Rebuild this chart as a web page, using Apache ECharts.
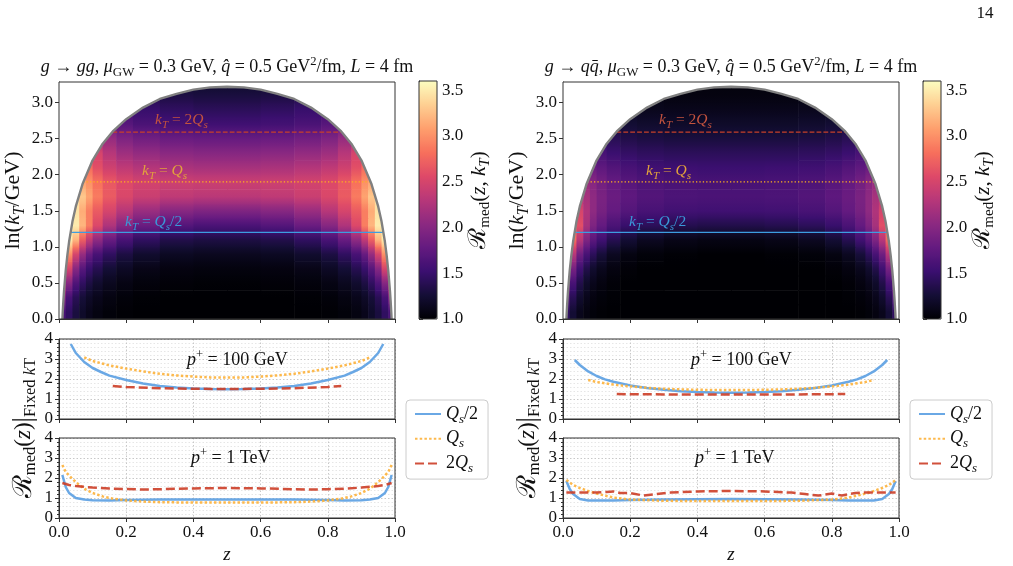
<!DOCTYPE html>
<html>
<head>
<meta charset="utf-8">
<script src="https://cdn.jsdelivr.net/npm/echarts@6/dist/echarts.min.js"></script>
<style>
  html, body { margin: 0; padding: 0; background: #fff; }
  #chart { width: 1013px; height: 566px; }
</style>
</head>
<body>
<div id="chart"></div>
<script>
// ---- R_med(z, kT) maps: cell edges and values ----
const zEdges = [0, 0.02, 0.04, 0.06, 0.08, 0.1, 0.13, 0.17, 0.22, 0.3, 0.4, 0.5,
  0.6, 0.7, 0.78, 0.83, 0.87, 0.9, 0.92, 0.94, 0.96, 0.98, 1.0];
const kEdges = [0, 0.2, 0.4, 0.6, 0.8, 1.0, 1.2, 1.4, 1.6, 1.8, 2.0, 2.2, 2.4, 2.6, 2.8, 3.0, 3.2, 3.4];

// g -> gg, one row per kT band (bottom to top)
const heatGG = [
  [1.6, 1.45, 1.3, 1.2, 1.12, 1.07, 1.03, 1.01, 1.0, 1.0, 1.0, 1.0, 1.0, 1.0, 1.01, 1.03, 1.07, 1.12, 1.2, 1.3, 1.45, 1.6],
  [2.0, 1.6, 1.4, 1.27, 1.18, 1.12, 1.07, 1.03, 1.01, 1.0, 1.0, 1.0, 1.0, 1.01, 1.03, 1.07, 1.12, 1.18, 1.27, 1.4, 1.6, 2.0],
  [2.5, 2.0, 1.65, 1.45, 1.32, 1.22, 1.14, 1.08, 1.04, 1.02, 1.01, 1.01, 1.02, 1.04, 1.08, 1.14, 1.22, 1.32, 1.45, 1.65, 2.0, 2.5],
  [2.9, 2.5, 2.0, 1.7, 1.5, 1.38, 1.26, 1.17, 1.1, 1.06, 1.05, 1.05, 1.06, 1.1, 1.17, 1.26, 1.38, 1.5, 1.7, 2.0, 2.5, 2.9],
  [3.2, 3.0, 2.5, 2.1, 1.8, 1.6, 1.45, 1.32, 1.22, 1.16, 1.14, 1.14, 1.16, 1.22, 1.32, 1.45, 1.6, 1.8, 2.1, 2.5, 3.0, 3.2],
  [3.5, 3.5, 3.2, 2.7, 2.35, 2.05, 1.8, 1.6, 1.45, 1.35, 1.32, 1.32, 1.35, 1.45, 1.6, 1.8, 2.05, 2.35, 2.7, 3.2, 3.5, 3.5],
  [3.6, 3.6, 3.5, 3.2, 2.9, 2.55, 2.25, 2.0, 1.82, 1.68, 1.62, 1.62, 1.68, 1.82, 2.0, 2.25, 2.55, 2.9, 3.2, 3.5, 3.6, 3.6],
  [3.6, 3.6, 3.45, 3.15, 2.9, 2.68, 2.5, 2.3, 2.12, 2.0, 1.95, 1.95, 2.0, 2.12, 2.3, 2.5, 2.68, 2.9, 3.15, 3.45, 3.6, 3.6],
  [3.4, 3.4, 3.4, 3.3, 3.1, 2.88, 2.68, 2.53, 2.42, 2.35, 2.32, 2.32, 2.35, 2.42, 2.53, 2.68, 2.88, 3.1, 3.3, 3.4, 3.4, 3.4],
  [3.2, 3.2, 3.2, 3.1, 3.0, 2.82, 2.66, 2.55, 2.48, 2.44, 2.42, 2.42, 2.44, 2.48, 2.55, 2.66, 2.82, 3.0, 3.1, 3.2, 3.2, 3.2],
  [2.9, 2.9, 2.9, 2.9, 2.8, 2.6, 2.45, 2.35, 2.28, 2.22, 2.2, 2.2, 2.22, 2.28, 2.35, 2.45, 2.6, 2.8, 2.9, 2.9, 2.9, 2.9],
  [2.6, 2.6, 2.6, 2.6, 2.6, 2.5, 2.3, 2.15, 2.08, 2.03, 2.0, 2.0, 2.03, 2.08, 2.15, 2.3, 2.5, 2.6, 2.6, 2.6, 2.6, 2.6],
  [2.2, 2.2, 2.2, 2.2, 2.2, 2.2, 2.1, 1.95, 1.87, 1.82, 1.8, 1.8, 1.82, 1.87, 1.95, 2.1, 2.2, 2.2, 2.2, 2.2, 2.2, 2.2],
  [1.8, 1.8, 1.8, 1.8, 1.8, 1.8, 1.8, 1.7, 1.62, 1.57, 1.55, 1.55, 1.57, 1.62, 1.7, 1.8, 1.8, 1.8, 1.8, 1.8, 1.8, 1.8],
  [1.55, 1.55, 1.55, 1.55, 1.55, 1.55, 1.55, 1.55, 1.5, 1.45, 1.42, 1.42, 1.45, 1.5, 1.55, 1.55, 1.55, 1.55, 1.55, 1.55, 1.55, 1.55],
  [1.35, 1.35, 1.35, 1.35, 1.35, 1.35, 1.35, 1.35, 1.35, 1.32, 1.3, 1.3, 1.32, 1.35, 1.35, 1.35, 1.35, 1.35, 1.35, 1.35, 1.35, 1.35],
  [1.2, 1.2, 1.2, 1.2, 1.2, 1.2, 1.2, 1.2, 1.2, 1.2, 1.2, 1.2, 1.2, 1.2, 1.2, 1.2, 1.2, 1.2, 1.2, 1.2, 1.2, 1.2]
];

// g -> q qbar
const heatQQ = [
  [1.45, 1.25, 1.12, 1.06, 1.03, 1.01, 1.0, 1.0, 1.0, 1.0, 1.0, 1.0, 1.0, 1.0, 1.0, 1.0, 1.01, 1.03, 1.06, 1.12, 1.25, 1.45],
  [1.7, 1.4, 1.22, 1.12, 1.06, 1.03, 1.01, 1.0, 1.0, 1.0, 1.0, 1.0, 1.0, 1.0, 1.0, 1.01, 1.03, 1.06, 1.12, 1.22, 1.4, 1.7],
  [2.0, 1.6, 1.35, 1.2, 1.12, 1.06, 1.02, 1.0, 1.0, 1.0, 1.0, 1.0, 1.0, 1.0, 1.0, 1.02, 1.06, 1.12, 1.2, 1.35, 1.6, 2.0],
  [2.3, 1.9, 1.55, 1.35, 1.22, 1.13, 1.06, 1.02, 1.0, 1.0, 1.0, 1.0, 1.0, 1.0, 1.02, 1.06, 1.13, 1.22, 1.35, 1.55, 1.9, 2.3],
  [2.6, 2.3, 1.85, 1.6, 1.42, 1.28, 1.15, 1.07, 1.03, 1.01, 1.0, 1.0, 1.01, 1.03, 1.07, 1.15, 1.28, 1.42, 1.6, 1.85, 2.3, 2.6],
  [2.9, 2.8, 2.3, 1.95, 1.72, 1.55, 1.38, 1.25, 1.15, 1.1, 1.08, 1.08, 1.1, 1.15, 1.25, 1.38, 1.55, 1.72, 1.95, 2.3, 2.8, 2.9],
  [2.9, 2.9, 2.6, 2.2, 1.95, 1.78, 1.62, 1.5, 1.42, 1.37, 1.35, 1.35, 1.37, 1.42, 1.5, 1.62, 1.78, 1.95, 2.2, 2.6, 2.9, 2.9],
  [2.6, 2.6, 2.5, 2.25, 2.05, 1.9, 1.78, 1.68, 1.6, 1.56, 1.55, 1.55, 1.56, 1.6, 1.68, 1.78, 1.9, 2.05, 2.25, 2.5, 2.6, 2.6],
  [2.3, 2.3, 2.3, 2.2, 2.05, 1.92, 1.82, 1.74, 1.67, 1.63, 1.62, 1.62, 1.63, 1.67, 1.74, 1.82, 1.92, 2.05, 2.2, 2.3, 2.3, 2.3],
  [2.1, 2.1, 2.1, 2.1, 2.0, 1.88, 1.78, 1.7, 1.64, 1.61, 1.6, 1.6, 1.61, 1.64, 1.7, 1.78, 1.88, 2.0, 2.1, 2.1, 2.1, 2.1],
  [1.85, 1.85, 1.85, 1.85, 1.82, 1.75, 1.67, 1.6, 1.55, 1.53, 1.52, 1.52, 1.53, 1.55, 1.6, 1.67, 1.75, 1.82, 1.85, 1.85, 1.85, 1.85],
  [1.65, 1.65, 1.65, 1.65, 1.65, 1.6, 1.52, 1.47, 1.44, 1.42, 1.42, 1.42, 1.42, 1.44, 1.47, 1.52, 1.6, 1.65, 1.65, 1.65, 1.65, 1.65],
  [1.45, 1.45, 1.45, 1.45, 1.45, 1.45, 1.4, 1.35, 1.32, 1.3, 1.3, 1.3, 1.3, 1.32, 1.35, 1.4, 1.45, 1.45, 1.45, 1.45, 1.45, 1.45],
  [1.28, 1.28, 1.28, 1.28, 1.28, 1.28, 1.28, 1.25, 1.22, 1.2, 1.2, 1.2, 1.2, 1.22, 1.25, 1.28, 1.28, 1.28, 1.28, 1.28, 1.28, 1.28],
  [1.15, 1.15, 1.15, 1.15, 1.15, 1.15, 1.15, 1.15, 1.13, 1.12, 1.12, 1.12, 1.12, 1.13, 1.15, 1.15, 1.15, 1.15, 1.15, 1.15, 1.15, 1.15],
  [1.08, 1.08, 1.08, 1.08, 1.08, 1.08, 1.08, 1.08, 1.08, 1.06, 1.06, 1.06, 1.06, 1.08, 1.08, 1.08, 1.08, 1.08, 1.08, 1.08, 1.08, 1.08],
  [1.04, 1.04, 1.04, 1.04, 1.04, 1.04, 1.04, 1.04, 1.04, 1.04, 1.04, 1.04, 1.04, 1.04, 1.04, 1.04, 1.04, 1.04, 1.04, 1.04, 1.04, 1.04]
];

// kinematic boundary (grey dome)
const domeZ = [0, 0.0101, 0.011, 0.012, 0.013, 0.015, 0.02, 0.025, 0.03, 0.04, 0.05, 0.07, 0.1, 0.13, 0.16, 0.2, 0.25, 0.3, 0.35, 0.4, 0.45, 0.5,
  0.55, 0.6, 0.65, 0.7, 0.75, 0.8, 0.84, 0.87, 0.9, 0.93, 0.95, 0.96, 0.97, 0.975, 0.98, 0.985, 0.987, 0.988, 0.989, 0.9899, 1];
const domeK = [0, 0, 0.085, 0.17, 0.25, 0.39, 0.67, 0.89, 1.07, 1.35, 1.56, 1.87, 2.2, 2.43, 2.6, 2.77, 2.93, 3.05, 3.12, 3.18, 3.21, 3.22,
  3.21, 3.18, 3.12, 3.05, 2.93, 2.77, 2.6, 2.43, 2.2, 1.87, 1.56, 1.35, 1.07, 0.89, 0.67, 0.39, 0.25, 0.17, 0.085, 0, 0];

// fixed-kT lines: Qs/2, Qs, 2Qs
const fixedK = [1.2, 1.9, 2.59];
const fixedZ0 = [0.034, 0.072, 0.159];
const fixedZ1 = [0.966, 0.928, 0.841];

// ---- lower panels: R_med(z) at fixed kT ----
const gg100HalfZ = [0.035, 0.05, 0.075, 0.1, 0.125, 0.15, 0.2, 0.25, 0.3, 0.35, 0.4, 0.45, 0.5, 0.55, 0.6, 0.65, 0.7, 0.75, 0.8, 0.85, 0.875, 0.9, 0.925, 0.95, 0.965];
const gg100Half = [3.75, 3.3, 2.85, 2.55, 2.35, 2.17, 1.95, 1.78, 1.65, 1.57, 1.52, 1.5, 1.49, 1.5, 1.52, 1.57, 1.65, 1.78, 1.95, 2.17, 2.35, 2.55, 2.85, 3.3, 3.75];
const gg100QsZ = [0.075, 0.1, 0.15, 0.2, 0.25, 0.3, 0.35, 0.4, 0.45, 0.5, 0.55, 0.6, 0.65, 0.7, 0.75, 0.8, 0.85, 0.9, 0.925];
const gg100Qs = [3.08, 2.9, 2.68, 2.52, 2.38, 2.26, 2.18, 2.12, 2.08, 2.07, 2.08, 2.12, 2.18, 2.26, 2.38, 2.52, 2.68, 2.9, 3.08];
const gg100TwoZ = [0.16, 0.2, 0.3, 0.4, 0.5, 0.6, 0.7, 0.8, 0.84];
const gg100Two = [1.65, 1.6, 1.54, 1.51, 1.5, 1.51, 1.54, 1.6, 1.65];

const gg1kHalfZ = [0.01, 0.02, 0.03, 0.05, 0.075, 0.1, 0.15, 0.2, 0.3, 0.4, 0.5, 0.6, 0.7, 0.8, 0.85, 0.9, 0.925, 0.95, 0.97, 0.98, 0.99];
const gg1kHalf = [2.15, 1.55, 1.25, 1.0, 0.92, 0.89, 0.88, 0.9, 0.92, 0.92, 0.92, 0.92, 0.92, 0.9, 0.88, 0.89, 0.92, 1.0, 1.25, 1.55, 2.15];
const gg1kQsZ = [0.01, 0.02, 0.04, 0.06, 0.08, 0.1, 0.13, 0.16, 0.2, 0.25, 0.3, 0.4, 0.5, 0.6, 0.7, 0.75, 0.8, 0.84, 0.87, 0.9, 0.92, 0.94, 0.96, 0.98, 0.99];
const gg1kQs = [2.65, 2.3, 1.95, 1.65, 1.42, 1.25, 1.08, 0.97, 0.88, 0.82, 0.79, 0.77, 0.77, 0.77, 0.79, 0.82, 0.88, 0.97, 1.08, 1.25, 1.42, 1.65, 1.95, 2.3, 2.65];
const gg1kTwoZ = [0.01, 0.03, 0.05, 0.1, 0.15, 0.2, 0.25, 0.3, 0.4, 0.5, 0.6, 0.7, 0.75, 0.8, 0.85, 0.9, 0.95, 0.97, 0.99];
const gg1kTwo = [1.75, 1.65, 1.6, 1.52, 1.47, 1.45, 1.42, 1.44, 1.48, 1.5, 1.48, 1.44, 1.42, 1.44, 1.47, 1.52, 1.6, 1.65, 1.75];

const qq100HalfZ = [0.035, 0.05, 0.075, 0.1, 0.125, 0.15, 0.2, 0.25, 0.3, 0.35, 0.4, 0.45, 0.5, 0.55, 0.6, 0.65, 0.7, 0.75, 0.8, 0.85, 0.875, 0.9, 0.925, 0.95, 0.965];
const qq100Half = [2.95, 2.7, 2.38, 2.15, 1.98, 1.86, 1.68, 1.55, 1.46, 1.39, 1.35, 1.32, 1.31, 1.32, 1.35, 1.39, 1.46, 1.55, 1.68, 1.86, 1.98, 2.15, 2.38, 2.7, 2.95];
const qq100QsZ = [0.075, 0.1, 0.15, 0.2, 0.25, 0.3, 0.35, 0.4, 0.45, 0.5, 0.55, 0.6, 0.65, 0.7, 0.75, 0.8, 0.85, 0.9, 0.925];
const qq100Qs = [1.95, 1.85, 1.72, 1.63, 1.56, 1.51, 1.48, 1.46, 1.45, 1.45, 1.45, 1.46, 1.48, 1.51, 1.56, 1.63, 1.72, 1.85, 1.95];
const qq100TwoZ = [0.16, 0.2, 0.3, 0.4, 0.5, 0.6, 0.7, 0.8, 0.84];
const qq100Two = [1.25, 1.24, 1.23, 1.22, 1.22, 1.22, 1.23, 1.24, 1.25];

const qq1kHalfZ = [0.01, 0.02, 0.03, 0.05, 0.075, 0.1, 0.15, 0.2, 0.3, 0.4, 0.5, 0.6, 0.7, 0.8, 0.85, 0.9, 0.925, 0.95, 0.97, 0.98, 0.99];
const qq1kHalf = [1.85, 1.45, 1.2, 0.95, 0.88, 0.87, 0.88, 0.9, 0.93, 0.94, 0.95, 0.94, 0.93, 0.9, 0.88, 0.87, 0.88, 0.95, 1.2, 1.45, 1.85];
const qq1kQsZ = [0.01, 0.03, 0.05, 0.08, 0.1, 0.15, 0.2, 0.3, 0.4, 0.5, 0.6, 0.7, 0.8, 0.85, 0.9, 0.92, 0.95, 0.97, 0.99];
const qq1kQs = [1.9, 1.65, 1.5, 1.32, 1.22, 1.02, 0.92, 0.86, 0.85, 0.85, 0.85, 0.86, 0.92, 1.02, 1.22, 1.32, 1.5, 1.65, 1.9];
const qq1kTwoZ = [0.01, 0.05, 0.1, 0.13, 0.15, 0.17, 0.2, 0.24, 0.28, 0.32, 0.4, 0.5, 0.6, 0.68, 0.72, 0.76, 0.8, 0.83, 0.87, 0.9, 0.95, 0.99];
const qq1kTwo = [1.28, 1.28, 1.27, 1.3, 1.33, 1.25, 1.25, 1.12, 1.2, 1.27, 1.33, 1.35, 1.33, 1.27, 1.2, 1.12, 1.22, 1.12, 1.25, 1.28, 1.28, 1.28];

const cbarMin = 1.0, cbarMax = 3.6;
const magma = ['#000004', '#140e36', '#3b0f70', '#641a80', '#8c2981', '#b73779',
  '#de4968', '#f7705c', '#fe9f6d', '#fecf92', '#fcfdbf'];

const FONT = 'Liberation Serif';
const BLUE = '#5a9ee2', ORANGE = '#fdb13a', RED = '#cc3d26';

function zip(xs, ys) { return xs.map((x, i) => [x, ys[i]]); }

function cmap(v) {
  const t = Math.min(1, Math.max(0, (v - cbarMin) / (cbarMax - cbarMin)));
  return echarts.color.lerp(t, magma);
}

// each cell keeps the values of the cells below and above for vertical shading
function cells(rows) {
  const out = [];
  rows.forEach((row, i) => row.forEach((v, j) => {
    const below = i > 0 ? rows[i - 1][j] : v;
    const above = i < rows.length - 1 ? rows[i + 1][j] : v;
    out.push([zEdges[j], zEdges[j + 1], kEdges[i], kEdges[i + 1], v, below, above]);
  }));
  return out;
}

function rich(size) {
  return {
    i: { fontFamily: FONT, fontStyle: 'italic', fontSize: size, lineHeight: size * 1.3 },
    n: { fontFamily: FONT, fontSize: size, lineHeight: size * 1.3 },
    big: { fontFamily: FONT, fontSize: size * 1.15, lineHeight: size * 1.3 },
    sub: { fontFamily: FONT, fontStyle: 'italic', fontSize: size * 0.72, verticalAlign: 'bottom', lineHeight: size * 0.72 },
    subr: { fontFamily: FONT, fontSize: size * 0.72, verticalAlign: 'bottom', lineHeight: size * 0.72 },
    sup: { fontFamily: FONT, fontSize: size * 0.7, verticalAlign: 'top', lineHeight: size * 0.72 }
  };
}

function renderCell(params, api) {
  const a = api.coord([api.value(0), api.value(3)]);
  const b = api.coord([api.value(1), api.value(2)]);
  const v = api.value(4), vb = api.value(5), va = api.value(6);
  return {
    type: 'rect',
    shape: { x: a[0], y: a[1], width: b[0] - a[0] + 0.6, height: b[1] - a[1] + 0.6 },
    style: {
      fill: {
        type: 'linear', x: 0, y: 0, x2: 0, y2: 1,
        colorStops: [
          { offset: 0, color: cmap((v + va) / 2) },
          { offset: 0.5, color: cmap(v) },
          { offset: 1, color: cmap((v + vb) / 2) }
        ]
      }
    }
  };
}

const gridBase = { show: true, borderColor: '#333', borderWidth: 1, backgroundColor: 'transparent', z: 10, outerBoundsMode: 'none', containLabel: false };
const grids = [];
const xAxes = [];
const yAxes = [];
const series = [];
const graphics = [];
const visualMaps = [];
const legends = [];

const tickStyle = { fontFamily: FONT, fontSize: 17, color: '#111' };
const axLine = { show: true, lineStyle: { color: '#333', width: 1 } };
const axTick = { show: true, length: 4, lineStyle: { color: '#333' } };

function column(x0, title, heat, lower, labelX) {
  const g = grids.length;
  const W = 336;
  grids.push(Object.assign({ left: x0, top: 82, width: W, height: 237 }, gridBase));
  grids.push(Object.assign({ left: x0 + 360, top: 81, width: 18, height: 238 }, gridBase));
  grids.push(Object.assign({ left: x0, top: 339, width: W, height: 80 }, gridBase));
  grids.push(Object.assign({ left: x0, top: 438, width: W, height: 80 }, gridBase));

  // heatmap axes
  xAxes.push({ gridIndex: g, type: 'value', min: 0, max: 1, interval: 0.2,
    axisLine: axLine, axisTick: axTick, axisLabel: { show: false }, splitLine: { show: false } });
  yAxes.push({ gridIndex: g, type: 'value', min: 0, max: 3.285, interval: 0.5,
    axisLine: axLine, axisTick: axTick, splitLine: { show: false },
    axisLabel: Object.assign({ formatter: v => v.toFixed(1), showMaxLabel: false, margin: 6 }, tickStyle),
    name: '{n|ln(}{i|k}{sub|T}{n|/GeV)}', nameLocation: 'middle', nameGap: 22,
    nameTextStyle: { fontFamily: FONT, fontSize: 22, color: '#111', rich: rich(22) } });
  // colorbar axes
  xAxes.push({ gridIndex: g + 1, type: 'value', min: 0, max: 1, show: false });
  yAxes.push({ gridIndex: g + 1, type: 'value', min: cbarMin, max: cbarMax, interval: 0.5, position: 'right',
    axisLine: axLine, axisTick: axTick, splitLine: { show: false },
    axisLabel: Object.assign({ formatter: v => v.toFixed(1), showMaxLabel: false, margin: 5 }, tickStyle),
    name: '{big|ℛ}{subr|med}{n|(}{i|z}{n|, }{i|k}{sub|T}{n|)}', nameLocation: 'middle', nameGap: 24, nameRotate: 90,
    nameTextStyle: { fontFamily: FONT, fontSize: 21, color: '#111', rich: rich(21) } });
  // lower panels
  [g + 2, g + 3].forEach((gi, k) => {
    xAxes.push({ gridIndex: gi, type: 'value', min: 0, max: 1, interval: 0.2,
      axisLine: axLine, axisTick: axTick,
      axisLabel: Object.assign({ show: k === 1, formatter: v => v.toFixed(1), margin: 6 }, tickStyle),
      splitLine: { show: true, lineStyle: { color: '#c8c8c8', type: [1.5, 2] } },
      name: k === 1 ? '{i|z}' : '', nameLocation: 'middle', nameGap: 25,
      nameTextStyle: { fontFamily: FONT, fontSize: 19, color: '#111', rich: rich(19) } });
    yAxes.push({ gridIndex: gi, type: 'value', min: 0, max: 4, interval: 1,
      axisLine: axLine, axisTick: axTick,
      axisLabel: Object.assign({ margin: 6 }, tickStyle),
      minorTick: { show: true, splitNumber: 5, length: 2, lineStyle: { color: '#333' } },
      splitLine: { show: true, lineStyle: { color: '#c8c8c8', type: [1.5, 2] } },
      minorSplitLine: { show: true, lineStyle: { color: '#e6e6e6', type: [1.5, 2] } } });
  });

  // heatmap cells
  const si = series.length;
  series.push({ type: 'custom', name: 'map' + g, xAxisIndex: g, yAxisIndex: g, silent: true, clip: true,
    renderItem: renderCell, encode: { x: [0, 1], y: [2, 3] }, data: cells(heat), z: 1 });
  visualMaps.push({ type: 'continuous', seriesIndex: si, dimension: 4, min: cbarMin, max: cbarMax,
    left: x0 + 360, top: 81, itemWidth: 18, itemHeight: 238, padding: 0, calculable: false,
    hoverLink: false, inRange: { color: magma } });
  // white mask above the kinematic boundary
  series.push({ type: 'line', xAxisIndex: g, yAxisIndex: g, silent: true, symbol: 'none', z: 2,
    data: zip(domeZ, domeK), lineStyle: { width: 0 },
    areaStyle: { color: '#fff', opacity: 1, origin: 'end' } });
  // fixed-kT lines
  const hStyles = [
    { color: '#3d9de0', width: 1.3, type: 'solid' },
    { color: '#ffb21c', width: 1.3, type: [1.3, 2.1] },
    { color: '#c8402a', width: 1.3, type: [4.8, 2.1] }
  ];
  fixedK.forEach((k, i) => {
    series.push({ type: 'line', xAxisIndex: g, yAxisIndex: g, silent: true, symbol: 'none', z: 3,
      data: [[fixedZ0[i], k], [fixedZ1[i], k]], lineStyle: hStyles[i] });
  });
  // boundary curve
  series.push({ type: 'line', xAxisIndex: g, yAxisIndex: g, silent: true, symbol: 'none', z: 4,
    data: zip(domeZ.slice(1, -1), domeK.slice(1, -1)), lineStyle: { color: '#808080', width: 2.4 } });

  // lower curves
  const names = ['Qs/2', 'Qs', '2Qs'];
  const lStyles = [
    { color: BLUE, width: 2.5, type: 'solid', opacity: 0.9 },
    { color: ORANGE, width: 2.5, type: [2.5, 2.2], opacity: 0.9 },
    { color: RED, width: 2.5, type: [9, 4], opacity: 0.9 }
  ];
  lower.forEach((panel, p) => {
    panel.forEach((pts, i) => {
      series.push({ type: 'line', name: names[i], xAxisIndex: g + 2 + p, yAxisIndex: g + 2 + p,
        symbol: 'none', silent: true, data: pts, lineStyle: lStyles[i], itemStyle: { color: lStyles[i].color }, z: 3 });
    });
  });

  legends.push({ data: names, left: x0 + 347, top: 400, orient: 'vertical',
    itemWidth: 26, itemHeight: 12, itemGap: 4, padding: [5, 10, 4, 8],
    itemStyle: { opacity: 0 },
    borderColor: '#cccccc', borderWidth: 1, borderRadius: 4, backgroundColor: '#fff',
    formatter: n => ({ 'Qs/2': '{i|Q}{sub|s}{n|/2}', 'Qs': '{i|Q}{sub|s}', '2Qs': '{n|2}{i|Q}{sub|s}' })[n],
    textStyle: { fontFamily: FONT, fontSize: 18, color: '#111', rich: rich(18) } });

  // texts
  const r18 = rich(18), r155 = rich(15.5), r24 = rich(23);
  graphics.push({ type: 'text', x: x0 + 168, y: 67, silent: true,
    style: { text: title, rich: r18, fontFamily: FONT, fontSize: 18, lineHeight: 23, fill: '#111', align: 'center', verticalAlign: 'middle' } });
  const lblText = ['{i|k}{sub|T}{n| = }{i|Q}{sub|s}{n|/2}', '{i|k}{sub|T}{n| = }{i|Q}{sub|s}', '{i|k}{sub|T}{n| = 2}{i|Q}{sub|s}'];
  const lblCol = ['#3a98d8', '#e2a23c', '#c4533e'];
  const lblY = [222, 171, 120];
  lblText.forEach((t, i) => {
    graphics.push({ type: 'text', x: labelX[i], y: lblY[i], silent: true, z: 100,
      style: { text: t, rich: r155, fontFamily: FONT, fontSize: 15.5, lineHeight: 20, fill: lblCol[i], align: 'left', verticalAlign: 'middle' } });
  });
  graphics.push({ type: 'text', x: x0 + 128, y: 360, silent: true, z: 100,
    style: { text: '{i|p}{sup|+}{n| = 100 GeV}', rich: r18, fontFamily: FONT, fontSize: 18, lineHeight: 23, fill: '#111', align: 'left', verticalAlign: 'middle' } });
  graphics.push({ type: 'text', x: x0 + 132, y: 458, silent: true, z: 100,
    style: { text: '{i|p}{sup|+}{n| = 1 TeV}', rich: r18, fontFamily: FONT, fontSize: 18, lineHeight: 23, fill: '#111', align: 'left', verticalAlign: 'middle' } });
  graphics.push({ type: 'text', x: x0 - 35, y: 428, rotation: Math.PI / 2, silent: true, z: 100,
    style: { text: '{big|ℛ}{subr|med}{n|(}{i|z}{n|)}{big||}{subr|Fixed }{sub|k}{subr|T}', rich: r24, fontFamily: FONT, fontSize: 23, lineHeight: 30,
      fill: '#111', align: 'center', verticalAlign: 'middle' } });
}

column(59, '{i|g}{n| → }{i|gg}{n|, }{i|μ}{subr|GW}{n| = 0.3 GeV, }{i|q̂}{n| = 0.5 GeV}{sup|2}{n|/fm, }{i|L}{n| = 4 fm}', heatGG,
  [[zip(gg100HalfZ, gg100Half), zip(gg100QsZ, gg100Qs), zip(gg100TwoZ, gg100Two)],
   [zip(gg1kHalfZ, gg1kHalf), zip(gg1kQsZ, gg1kQs), zip(gg1kTwoZ, gg1kTwo)]],
  [125, 142, 155]);
column(563, '{i|g}{n| → }{i|q}{i|q̄}{n|, }{i|μ}{subr|GW}{n| = 0.3 GeV, }{i|q̂}{n| = 0.5 GeV}{sup|2}{n|/fm, }{i|L}{n| = 4 fm}', heatQQ,
  [[zip(qq100HalfZ, qq100Half), zip(qq100QsZ, qq100Qs), zip(qq100TwoZ, qq100Two)],
   [zip(qq1kHalfZ, qq1kHalf), zip(qq1kQsZ, qq1kQs), zip(qq1kTwoZ, qq1kTwo)]],
  [629, 646, 659]);

graphics.push({ type: 'text', x: 985, y: 14, silent: true,
  style: { text: '14', fontFamily: FONT, fontSize: 17, fill: '#111', align: 'center', verticalAlign: 'middle' } });

const chart = echarts.init(document.getElementById('chart'));
chart.setOption({
  animation: false,
  backgroundColor: '#fff',
  textStyle: { fontFamily: FONT },
  grid: grids,
  xAxis: xAxes,
  yAxis: yAxes,
  visualMap: visualMaps,
  legend: legends,
  graphic: graphics,
  series: series
});
</script>
</body>
</html>
